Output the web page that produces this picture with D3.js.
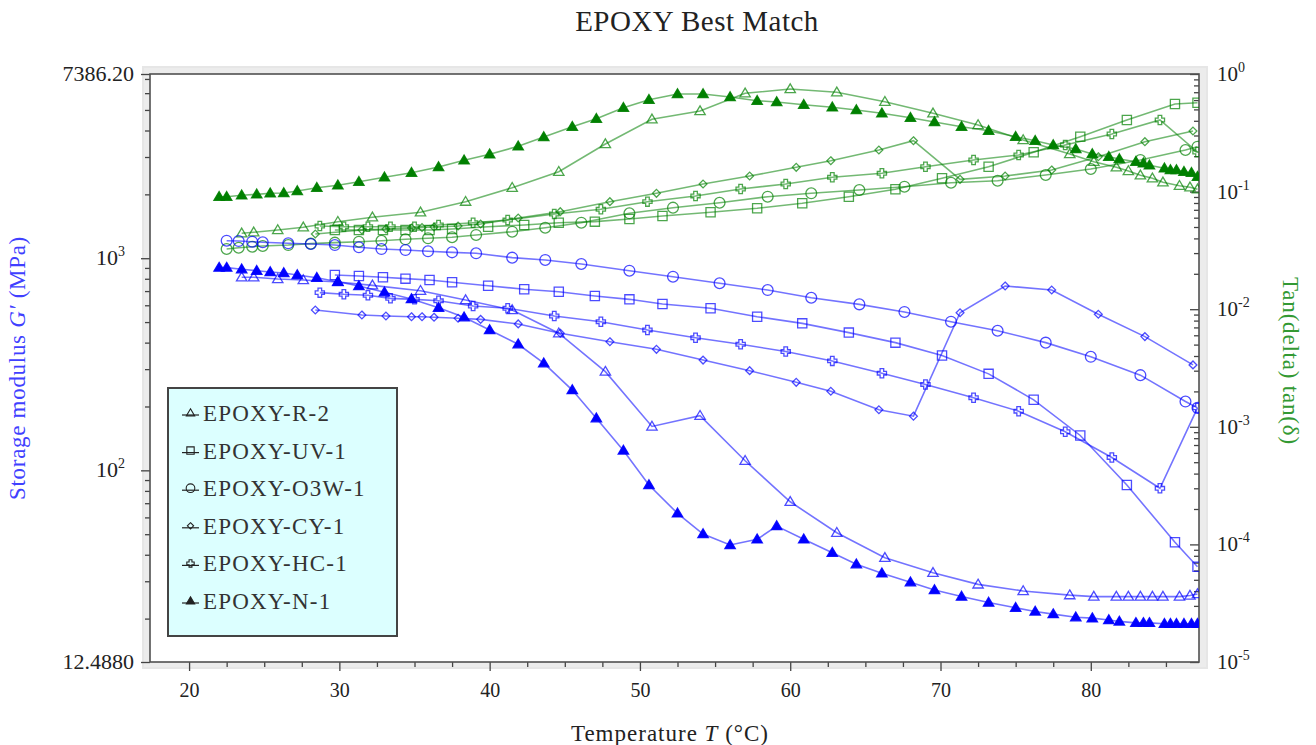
<!DOCTYPE html>
<html>
<head>
<meta charset="utf-8">
<script src="https://cdn.jsdelivr.net/npm/d3@7"></script>
<style>
  html, body { margin: 0; padding: 0; background: #ffffff; }
  svg { display: block; font-family: "Liberation Serif", "DejaVu Serif", serif; }
</style>
</head>
<body>
<svg id="chart" width="1316" height="745"></svg>
<script>
// ---- Sample names (legend order) ----
const sampleNames = ["EPOXY-R-2", "EPOXY-UV-1", "EPOXY-O3W-1", "EPOXY-CY-1", "EPOXY-HC-1", "EPOXY-N-1"];

// ---- Temperature T (°C) ----
const tempR2 = [23.5,24.3,25.9,27.6,29.9,32.2,35.4,38.4,41.5,44.6,47.7,50.8,54.0,57.0,60.0,63.1,66.3,69.5,72.5,75.5,78.6,80.2,81.7,82.5,83.3,84.1,84.8,85.9,86.6,87.1];
const tempUV = [29.7,31.3,32.9,34.4,36.0,37.5,39.9,42.3,44.6,47.0,49.3,51.5,54.7,57.8,60.8,63.9,67.0,70.1,73.2,76.2,79.3,82.4,85.6,87.1];
const tempO3W = [22.5,23.3,24.2,24.9,26.6,28.1,29.7,31.3,32.8,34.4,35.9,37.5,39.1,41.5,43.7,46.1,49.3,52.2,55.3,58.5,61.4,64.6,67.6,70.7,73.8,77.0,80.0,83.3,86.3,87.1];
const tempCY = [28.4,31.5,33.1,34.8,35.5,36.3,37.9,39.4,41.9,44.7,48.0,51.1,54.2,57.3,60.4,62.7,65.9,68.2,71.3,74.3,77.4,80.5,83.6,86.8];
const tempHC = [28.7,30.3,31.9,33.4,35.0,36.6,38.9,41.2,44.3,47.4,50.5,53.7,56.7,59.7,62.8,66.1,69.0,72.2,75.2,78.3,81.4,84.6,87.1];
const tempN1 = [22.0,22.5,23.5,24.5,25.4,26.3,27.2,28.5,29.9,31.3,33.0,34.8,36.6,38.3,40.0,41.9,43.6,45.5,47.1,48.9,50.6,52.5,54.2,56.0,57.8,59.1,60.9,62.8,64.4,66.1,68.0,69.6,71.4,73.2,75.0,76.3,77.5,79.0,80.1,81.2,81.9,83.0,83.5,83.9,84.9,85.3,85.7,86.2,86.7,87.1];

// ---- Storage modulus G' (MPa) ----
const modR2 = [813,813,798,789,772,745,703,635,570,443,292,161,181,111,71.1,50.8,38.7,32.9,29.0,27.0,25.8,25.4,25.4,25.4,25.4,25.4,25.4,25.4,25.7,26.1];
const modUV = [834,825,813,801,789,770,742,714,695,664,640,608,581,530,493,446,400,348,285,215,146,85.3,45.8,35.1];
const modO3W = [1209,1205,1196,1189,1176,1167,1154,1126,1105,1093,1078,1066,1055,1006,981,939,873,818,762,708,651,606,558,502,455,400,343,281,211,197];
const modCY = [570,540,534,530,530,527,521,515,490,443,404,372,331,295,260,236,193,180,553,740,708,544,427,314];
const modHC = [688,676,669,647,640,630,595,581,534,502,459,422,393,363,328,287,254,220,190,152,115,82.3,197];
const modN1 = [903,903,887,873,861,852,834,809,775,740,691,642,584,527,459,393,320,239,176,124,85.3,62.7,50.1,44.5,47.3,54.6,47.3,40.9,36.1,32.7,29.7,27.3,25.4,23.8,22.5,21.6,21.0,20.3,20.1,19.7,19.4,19.1,19.1,19.1,18.9,18.9,18.9,18.9,18.9,18.9];

// ---- Loss tangent tan(δ) ----
const tanR2 = [0.0442,0.0451,0.0472,0.0497,0.0555,0.0605,0.0667,0.0821,0.1079,0.1476,0.2539,0.4119,0.4845,0.6855,0.7454,0.6990,0.5813,0.4631,0.3685,0.2747,0.2088,0.1796,0.1609,0.1497,0.1376,0.1298,0.1200,0.1122,0.1088,0.1046];
const tanUV = [0.0472,0.0472,0.0472,0.0472,0.0472,0.0481,0.0503,0.0520,0.0544,0.0555,0.0585,0.0620,0.0667,0.0721,0.0795,0.0905,0.1046,0.1298,0.1628,0.2159,0.2929,0.4064,0.5557,0.5701];
const tanO3W = [0.0325,0.0333,0.0340,0.0345,0.0351,0.0361,0.0368,0.0375,0.0382,0.0393,0.0401,0.0409,0.0428,0.0456,0.0493,0.0544,0.0654,0.0730,0.0804,0.0905,0.0967,0.1032,0.1100,0.1190,0.1238,0.1384,0.1557,0.1857,0.2258,0.2408];
const tanCY = [0.0436,0.0472,0.0481,0.0490,0.0495,0.0500,0.0510,0.0530,0.0596,0.0675,0.0821,0.0967,0.1160,0.1357,0.1609,0.1831,0.2258,0.2709,0.1272,0.1357,0.1527,0.1980,0.2657,0.3276];
const tanHC = [0.0510,0.0503,0.0503,0.0503,0.0503,0.0520,0.0544,0.0573,0.0645,0.0707,0.0821,0.0918,0.1052,0.1160,0.1323,0.1431,0.1628,0.1857,0.2048,0.2490,0.3089,0.4064,0.2171];
const tanN1 = [0.0905,0.0905,0.0930,0.0948,0.0967,0.0973,0.1012,0.1079,0.1131,0.1214,0.1323,0.1448,0.1619,0.1846,0.2076,0.2428,0.2912,0.3563,0.4168,0.5170,0.6045,0.6761,0.6761,0.6373,0.5929,0.5779,0.5483,0.5211,0.4942,0.4631,0.4249,0.3906,0.3563,0.3295,0.2929,0.2709,0.2490,0.2303,0.2088,0.1980,0.1893,0.1796,0.1740,0.1674,0.1578,0.1527,0.1527,0.1476,0.1448,0.1339];

// ---- Axis tick labels ----
const xTickValues = [20, 30, 40, 50, 60, 70, 80];
const leftTickLabels = [
  { v: 7386.20, base: "7386.20", exp: null },
  { v: 1000, base: "10", exp: "3" },
  { v: 100, base: "10", exp: "2" },
  { v: 12.488, base: "12.4880", exp: null }
];
const rightTickLabels = [
  { v: 1, base: "10", exp: "0" },
  { v: 1e-1, base: "10", exp: "-1" },
  { v: 1e-2, base: "10", exp: "-2" },
  { v: 1e-3, base: "10", exp: "-3" },
  { v: 1e-4, base: "10", exp: "-4" },
  { v: 1e-5, base: "10", exp: "-5" }
];

const markerKinds = ["triangle", "square", "circle", "diamond", "cross", "filledTriangle"];
const temps = [tempR2, tempUV, tempO3W, tempCY, tempHC, tempN1];
const mods = [modR2, modUV, modO3W, modCY, modHC, modN1];
const tans = [tanR2, tanUV, tanO3W, tanCY, tanHC, tanN1];

const series = sampleNames.map((name, i) => ({
  name,
  kind: markerKinds[i],
  modulus: temps[i].map((t, j) => ({ t, v: mods[i][j] })),
  tan: temps[i].map((t, j) => ({ t, v: tans[i][j] }))
}));

// ---- Layout ----
const plot = { left: 150, right: 1199, top: 74, bottom: 662 };
const blue = "#0000ff", green = "#008000";

const svg = d3.select("#chart");

const x = d3.scaleLinear().domain([17.4, 87.2]).range([plot.left, plot.right]);
const yL = d3.scaleLog().domain([12.488, 7386.2]).range([plot.bottom, plot.top]);
const yR = d3.scaleLog().domain([1e-5, 1]).range([plot.bottom, plot.top]);

// Grey panel around the plotting area
svg.append("rect")
  .attr("x", plot.left - 8).attr("y", plot.top - 8)
  .attr("width", plot.right - plot.left + 17).attr("height", plot.bottom - plot.top + 15)
  .attr("fill", "#e6e6e6");
svg.append("rect")
  .attr("x", plot.left - 6).attr("y", plot.top - 6)
  .attr("width", plot.right - plot.left + 13).attr("height", plot.bottom - plot.top + 11)
  .attr("fill", "#ececec");
svg.append("rect")
  .attr("x", plot.left).attr("y", plot.top)
  .attr("width", plot.right - plot.left).attr("height", plot.bottom - plot.top)
  .attr("fill", "#ffffff");

// Title
svg.append("text")
  .attr("x", 697).attr("y", 31)
  .attr("text-anchor", "middle")
  .attr("font-size", 29).attr("letter-spacing", 0.5).attr("fill", "#222")
  .text("EPOXY Best Match");

// ---- Axes ----
const axisColor = "#444";
function styleAxis(g) {
  g.select(".domain").remove();
  g.selectAll(".tick line").attr("stroke", axisColor).attr("stroke-width", 1.3);
}

// Bottom axis: majors every 10, minors every 2.5
const xMinor = d3.range(22.5, 86, 2.5).filter(v => Math.abs(v % 10) > 1e-6);
svg.append("g").attr("transform", `translate(0,${plot.bottom})`)
  .call(d3.axisBottom(x).tickValues(xMinor).tickSize(5).tickFormat(""))
  .call(styleAxis);
svg.append("g").attr("transform", `translate(0,${plot.bottom})`)
  .call(d3.axisBottom(x).tickValues(xTickValues).tickSize(9).tickPadding(12).tickFormat(d3.format("d")))
  .call(styleAxis)
  .call(g => g.selectAll(".tick text").attr("font-family", "Liberation Serif").attr("font-size", 20).attr("fill", "#222"));

// Left axis (log)
const leftMinor = [];
[10, 100, 1000].forEach(d => { for (let k = 2; k <= 9; k++) { const v = d * k; if (v > 12.488 && v < 7386.2) leftMinor.push(v); } });
svg.append("g").attr("transform", `translate(${plot.left},0)`)
  .call(d3.axisLeft(yL).tickValues(leftMinor).tickSize(5).tickFormat(""))
  .call(styleAxis);
svg.append("g").attr("transform", `translate(${plot.left},0)`)
  .call(d3.axisLeft(yL).tickValues(leftTickLabels.map(d => d.v)).tickSize(9).tickFormat(""))
  .call(styleAxis);

const leftLab = svg.append("g").attr("font-size", 22).attr("fill", "#222");
leftTickLabels.forEach(d => {
  const t = leftLab.append("text")
    .attr("x", d.exp ? 125 : 134).attr("y", yL(d.v) + 7)
    .attr("text-anchor", "end");
  t.append("tspan").text(d.base);
  if (d.exp) {
    t.append("tspan").attr("dy", -9).attr("font-size", 14).text(d.exp);
  }
});

// Right axis (log), ticks pointing inward
const rightMinor = [];
[1e-5, 1e-4, 1e-3, 1e-2, 1e-1].forEach(d => { for (let k = 2; k <= 9; k++) rightMinor.push(d * k); });
svg.append("g").attr("transform", `translate(${plot.right},0)`)
  .call(d3.axisLeft(yR).tickValues(rightMinor).tickSize(5).tickFormat(""))
  .call(styleAxis);
svg.append("g").attr("transform", `translate(${plot.right},0)`)
  .call(d3.axisLeft(yR).tickValues(rightTickLabels.map(d => d.v)).tickSize(9).tickFormat(""))
  .call(styleAxis);

const rightLab = svg.append("g").attr("font-size", 21).attr("fill", "#222");
rightTickLabels.forEach(d => {
  const t = rightLab.append("text")
    .attr("x", 1217).attr("y", yR(d.v) + 7);
  t.append("tspan").text(d.base);
  t.append("tspan").attr("dy", -9).attr("font-size", 14).text(d.exp);
});

// Frame of the plotting area
svg.append("rect")
  .attr("x", plot.left).attr("y", plot.top)
  .attr("width", plot.right - plot.left).attr("height", plot.bottom - plot.top)
  .attr("fill", "none").attr("stroke", "#505050").attr("stroke-width", 1.6);

// Axis titles
svg.append("text")
  .attr("transform", `translate(25,${368}) rotate(-90)`)
  .attr("text-anchor", "middle")
  .attr("font-size", 23).attr("letter-spacing", 0.7).attr("fill", "#4040ff")
  .html("Storage modulus <tspan font-style=\"italic\">G′</tspan> (MPa)");

svg.append("text")
  .attr("transform", `translate(1283,${361}) rotate(90)`)
  .attr("text-anchor", "middle")
  .attr("font-size", 23).attr("letter-spacing", 0.8).attr("fill", "#339933")
  .text("Tan(delta) tan(δ)");

svg.append("text")
  .attr("x", 670).attr("y", 741)
  .attr("text-anchor", "middle")
  .attr("font-size", 23).attr("letter-spacing", 1).attr("fill", "#222")
  .html("Temperature <tspan font-style=\"italic\">T</tspan> (°C)");

// ---- Marker shapes ----
function markerPath(kind, s) {
  switch (kind) {
    case "triangle":
    case "filledTriangle":
      return `M0,${-5.2 * s}L${5.2 * s},${3.6 * s}L${-5.2 * s},${3.6 * s}Z`;
    case "square":
      return `M${-4.6 * s},${-4.6 * s}H${4.6 * s}V${4.6 * s}H${-4.6 * s}Z`;
    case "circle": {
      const r = 5.4 * s;
      return `M${r},0A${r},${r} 0 1,1 ${-r},0A${r},${r} 0 1,1 ${r},0Z`;
    }
    case "diamond":
      return `M0,${-3.9 * s}L${3.9 * s},0L0,${3.9 * s}L${-3.9 * s},0Z`;
    case "cross": {
      const a = 4.6 * s, b = 1.8 * s;
      return `M${-b},${-a}H${b}V${-b}H${a}V${b}H${b}V${a}H${-b}V${b}H${-a}V${-b}H${-b}Z`;
    }
  }
}

// ---- Data layers ----
svg.append("defs").append("clipPath").attr("id", "plotClip")
  .append("rect")
  .attr("x", plot.left).attr("y", plot.top)
  .attr("width", plot.right - plot.left).attr("height", plot.bottom - plot.top);

const dataLayer = svg.append("g").attr("clip-path", "url(#plotClip)");

function drawSeries(points, yScale, color, kind) {
  const line = d3.line().x(d => x(d.t)).y(d => yScale(d.v));
  dataLayer.append("path")
    .datum(points)
    .attr("d", line)
    .attr("fill", "none")
    .attr("stroke", color)
    .attr("stroke-opacity", 0.55)
    .attr("stroke-width", 1.6);
  const filled = kind === "filledTriangle";
  dataLayer.append("g").selectAll("path")
    .data(points)
    .join("path")
    .attr("transform", d => `translate(${x(d.t)},${yScale(d.v)})`)
    .attr("d", markerPath(kind, 1))
    .attr("fill", filled ? color : "none")
    .attr("stroke", color)
    .attr("stroke-opacity", filled ? 0.9 : 0.7)
    .attr("stroke-width", 1.3);
}

series.forEach(s => drawSeries(s.tan, yR, green, s.kind));
series.forEach(s => drawSeries(s.modulus, yL, blue, s.kind));

// ---- Legend ----
const legend = svg.append("g");
legend.append("rect")
  .attr("x", 168).attr("y", 388).attr("width", 229).attr("height", 248)
  .attr("fill", "#dcffff").attr("stroke", "#444").attr("stroke-width", 2);
series.forEach((s, i) => {
  const cy = 413 + i * 37.6;
  const g = legend.append("g");
  g.append("line").attr("x1", 182).attr("x2", 199).attr("y1", cy + 2).attr("y2", cy + 2)
    .attr("stroke", "#222").attr("stroke-width", 1.2);
  g.append("path")
    .attr("transform", `translate(190.5,${cy})`)
    .attr("d", markerPath(s.kind, 0.8))
    .attr("fill", s.kind === "filledTriangle" ? "#222" : "none")
    .attr("stroke", "#222").attr("stroke-width", 1.1);
  g.append("text")
    .attr("x", 203).attr("y", cy + 8)
    .attr("font-size", 23).attr("letter-spacing", 1.2).attr("fill", "#333")
    .text(s.name);
});
</script>
</body>
</html>
